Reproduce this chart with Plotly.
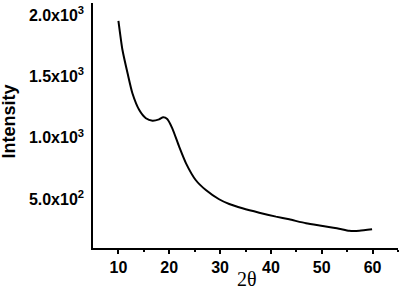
import plotly.graph_objects as go

two_theta = [10.0, 10.8, 11.8, 12.75, 14.1, 15.4, 16.7, 18.0, 18.8, 19.6, 20.6, 21.95, 23.3,
             25.2, 27.2, 29.8, 31.8, 34.4, 37.7, 41.0, 43.6, 46.9, 50.2, 53.4, 55.4, 57.4, 59.9]
intensity = [1955, 1716, 1526, 1363, 1226, 1159, 1139, 1150, 1167, 1153, 1077, 927, 791,
             655, 573, 498, 459, 424, 388, 356, 334, 302, 280, 258, 241, 241, 253]

x_ticks = [10, 20, 30, 40, 50, 60]
y_ticks = [500, 1000, 1500, 2000]
y_ticktext = ["5.0x10<sup>2</sup>", "1.0x10<sup>3</sup>", "1.5x10<sup>3</sup>", "2.0x10<sup>3</sup>"]

fig = go.Figure()
fig.add_trace(go.Scatter(x=two_theta, y=intensity, mode="lines",
                         line=dict(color="black", width=2, shape="spline", smoothing=0.6),
                         showlegend=False, hoverinfo="skip"))

W, H = 401, 295
l, r, t, b = 93, 3, 3, 47
pw, ph = W - l - r, H - t - b

fig.update_layout(
    width=W, height=H,
    margin=dict(l=l, r=r, t=t, b=b),
    paper_bgcolor="white", plot_bgcolor="white",
    font=dict(family="Liberation Sans, Arial, sans-serif", color="black"),
    xaxis=dict(range=[5, 65], tickvals=x_ticks, ticks="outside", ticklen=4, tickwidth=1.5,
               tickcolor="black", showline=True, linecolor="black", linewidth=1.5,
               showgrid=False, zeroline=False, ticklabelstandoff=0,
               tickfont=dict(size=16, family="Liberation Sans, Arial, sans-serif", weight="bold"),
               minor=dict(tickvals=[15, 25, 35, 45, 55, 65], ticks="outside", ticklen=2,
                          tickcolor="black", tickwidth=1.5, showgrid=False)),
    yaxis=dict(range=[100, 2100], tickvals=y_ticks, ticktext=y_ticktext, ticks="",
               showline=True, linecolor="black", linewidth=1.5, showgrid=False,
               zeroline=False, ticklabelstandoff=4,
               tickfont=dict(size=16, family="Liberation Sans, Arial, sans-serif", weight="bold")),
    annotations=[
        dict(text="Intensity", xref="paper", yref="paper", x=(8 - l) / pw, y=(248 - 121.5) / ph,
             xanchor="center", yanchor="middle", textangle=-90, showarrow=False,
             font=dict(size=18, family="Liberation Sans, Arial, sans-serif", weight="bold")),
        dict(text="2θ", xref="paper", yref="paper", x=(246.7 - l) / pw, y=(248 - 278.5) / ph,
             xanchor="center", yanchor="middle", showarrow=False,
             font=dict(size=20, family="Liberation Serif, Times New Roman, serif")),
    ],
)

fig.write_html("out.html", config={"displayModeBar": False},
               post_script="document.body.style.margin='0';document.body.style.padding='0';")
